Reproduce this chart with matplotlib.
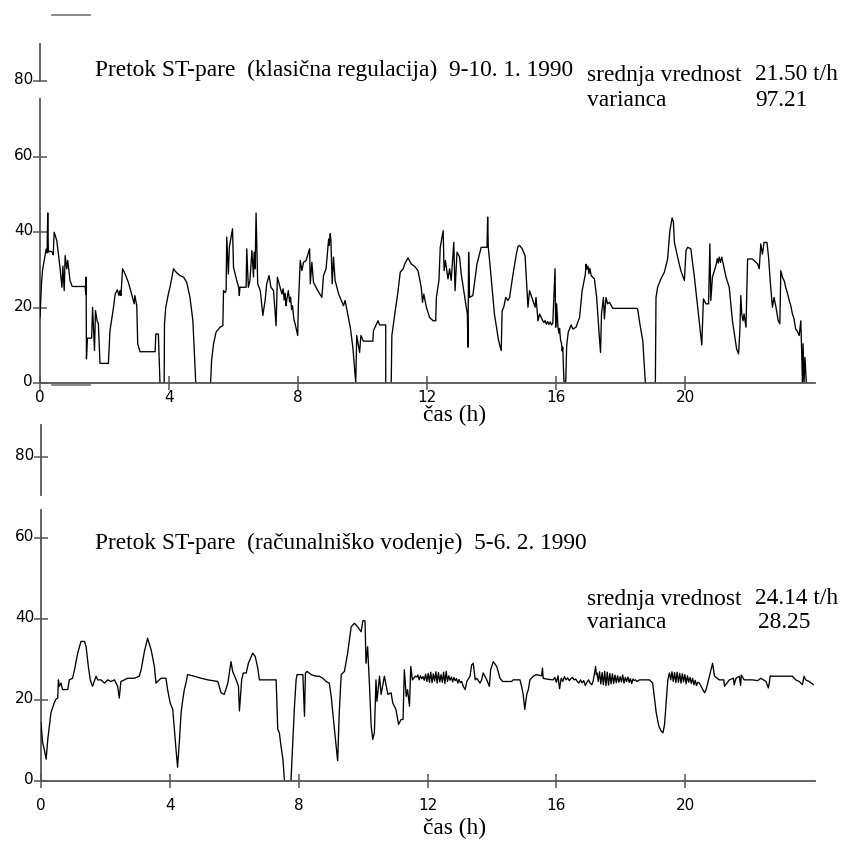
import numpy as np
import matplotlib.pyplot as plt
from matplotlib.lines import Line2D
from matplotlib.transforms import ScaledTranslation

# steam flow, classic control, 9-10. 1. 1990
classic_t = [0.00, 0.05, 0.08, 0.13, 0.19, 0.22, 0.24, 0.26, 0.31, 0.38, 0.41, 0.44, 0.52, 0.62, 0.68,
             0.71, 0.75, 0.78, 0.83, 0.86, 0.90, 0.93, 1.00, 1.40, 1.42, 1.43, 1.44, 1.47, 1.60, 1.63,
             1.69, 1.72, 1.77, 1.81, 1.86, 2.12, 2.17, 2.28, 2.33, 2.40, 2.45, 2.48, 2.51, 2.56, 2.64,
             2.74, 2.84, 2.92, 2.94, 3.00, 3.03, 3.10, 3.57, 3.59, 3.67, 3.72, 3.85, 3.86, 3.90, 3.98,
             4.03, 4.14, 4.22, 4.34, 4.45, 4.55, 4.65, 4.74, 4.83, 5.29, 5.32, 5.38, 5.46, 5.58, 5.67,
             5.69, 5.74, 5.77, 5.79, 5.84, 5.87, 5.97, 6.00, 6.10, 6.16, 6.18, 6.20, 6.39, 6.41, 6.46,
             6.51, 6.57, 6.62, 6.64, 6.67, 6.70, 6.75, 6.83, 6.91, 6.98, 7.03, 7.10, 7.16, 7.24, 7.32,
             7.36, 7.50, 7.54, 7.57, 7.60, 7.63, 7.65, 7.70, 7.74, 7.77, 7.80, 7.83, 7.87, 7.91, 7.99,
             8.01, 8.07, 8.12, 8.17, 8.25, 8.36, 8.38, 8.43, 8.48, 8.58, 8.74, 8.79, 8.87, 8.95, 8.97,
             9.00, 9.02, 9.06, 9.10, 9.15, 9.26, 9.41, 9.46, 9.62, 9.70, 9.79, 9.82, 9.91, 9.95, 10.03,
             10.32, 10.34, 10.48, 10.53, 10.72, 10.72, 10.89, 10.91, 11.03, 11.09, 11.17, 11.26, 11.31,
             11.41, 11.51, 11.62, 11.72, 11.82, 11.86, 11.90, 11.98, 12.08, 12.19, 12.27, 12.29, 12.37,
             12.41, 12.50, 12.53, 12.57, 12.65, 12.70, 12.75, 12.83, 12.87, 12.93, 13.01, 13.06, 13.17,
             13.25, 13.27, 13.29, 13.32, 13.42, 13.55, 13.68, 13.86, 13.88, 13.90, 13.96, 14.09, 14.22,
             14.30, 14.33, 14.38, 14.44, 14.51, 14.56, 14.66, 14.77, 14.82, 14.87, 14.95, 15.04, 15.13,
             15.18, 15.28, 15.35, 15.38, 15.44, 15.49, 15.59, 15.63, 15.66, 15.70, 15.74, 15.78, 15.82,
             15.86, 15.90, 15.97, 15.99, 16.02, 16.06, 16.09, 16.11, 16.14, 16.17, 16.19, 16.21, 16.23,
             16.25, 16.30, 16.33, 16.38, 16.47, 16.52, 16.62, 16.73, 16.81, 16.91, 16.93, 16.96, 16.99,
             17.02, 17.05, 17.09, 17.19, 17.26, 17.33, 17.38, 17.41, 17.47, 17.50, 17.55, 17.60, 17.66,
             17.76, 18.51, 18.53, 18.60, 18.69, 18.77, 19.08, 19.10, 19.15, 19.25, 19.36, 19.46, 19.53,
             19.60, 19.64, 19.67, 19.77, 19.87, 19.98, 20.03, 20.08, 20.18, 20.29, 20.44, 20.52, 20.57,
             20.65, 20.73, 20.77, 20.80, 20.85, 20.96, 21.00, 21.03, 21.06, 21.10, 21.14, 21.27, 21.37,
             21.47, 21.60, 21.66, 21.70, 21.73, 21.76, 21.80, 21.83, 21.89, 21.94, 22.09, 22.25, 22.30,
             22.35, 22.40, 22.45, 22.54, 22.59, 22.64, 22.71, 22.76, 22.82, 22.89, 22.94, 22.97, 23.02,
             23.08, 23.12, 23.17, 23.23, 23.28, 23.33, 23.38, 23.43, 23.48, 23.54, 23.59, 23.61, 23.64,
             23.66, 23.69, 23.72, 23.76]
classic_q = [17.5, 27.0, 30.0, 32.5, 35.5, 34.5, 45.1, 34.7, 35.0, 34.7, 34.0, 40.0, 37.8, 30.7, 25.4,
             31.0, 24.5, 33.8, 30.3, 32.5, 29.4, 27.2, 25.6, 25.6, 23.5, 28.1, 6.4, 11.9, 11.9, 20.1,
             8.6, 19.2, 16.5, 15.7, 5.2, 5.2, 13.9, 20.1, 23.6, 24.7, 23.2, 24.5, 23.2, 30.3, 28.9,
             26.7, 23.6, 21.0, 23.2, 20.5, 10.4, 8.3, 8.3, 13.0, 13.0, 0.0, 0.0, 15.7, 20.1, 23.6,
             25.4, 30.3, 29.4, 28.5, 28.1, 26.7, 22.7, 16.5, 0.0, 0.0, 5.9, 10.4, 13.5, 14.8, 15.2,
             24.5, 24.0, 24.5, 38.7, 28.9, 36.0, 40.9, 30.7, 27.2, 25.4, 23.2, 25.4, 25.4, 35.6, 25.4,
             27.2, 35.1, 28.1, 34.7, 30.3, 45.1, 26.3, 24.5, 17.9, 21.9, 26.3, 28.5, 25.4, 24.5, 15.2,
             28.1, 23.6, 25.0, 22.0, 23.8, 20.5, 22.0, 24.5, 21.5, 22.8, 19.5, 20.5, 17.0, 15.7, 12.6,
             20.5, 32.5, 29.8, 32.0, 32.5, 35.6, 26.3, 32.0, 26.7, 25.0, 22.7, 28.5, 30.3, 38.2, 36.5,
             39.6, 37.8, 26.3, 33.4, 27.2, 23.6, 20.5, 21.9, 14.8, 9.5, 0.0, 12.6, 8.1, 12.6, 11.1,
             11.1, 13.9, 16.5, 15.4, 15.4, 0.0, 0.0, 12.6, 20.1, 23.6, 29.4, 30.3, 31.6,
             33.2, 31.6, 30.9, 29.8, 25.4, 21.4, 23.6, 20.1, 17.4, 16.5, 16.5, 22.7, 27.2,
             36.0, 40.4, 29.8, 32.5, 27.6, 30.3, 27.2, 37.3, 24.5, 34.7, 33.4, 28.9, 22.7,
             18.3, 9.5, 34.7, 22.7, 23.2, 31.6, 36.0, 36.0, 44.0, 36.0, 30.7, 18.3, 11.2,
             8.6, 19.2, 20.1, 22.7, 21.9, 22.7, 28.5, 34.2, 36.2, 36.5, 35.6, 33.8, 20.1,
             24.5, 21.9, 20.1, 22.7, 16.5, 18.3, 16.5, 16.0, 16.6, 15.6, 16.3, 15.5, 16.2,
             15.4, 15.9, 30.3, 14.8, 21.0, 14.8, 13.2, 14.5, 11.5, 10.5, 8.5, 9.5, 4.0,
             0.0, 0.0, 9.9, 13.5, 15.4, 14.3, 14.8, 17.4, 24.5, 28.9, 31.5, 30.2, 31.0,
             29.0, 30.4, 28.5, 27.6, 22.7, 13.9, 8.1, 18.3, 22.7, 17.0, 22.7, 21.0, 21.4,
             19.8, 19.8, 19.6, 15.7, 11.2, 0.0, 0.0, 22.7, 25.4, 27.6, 29.4, 32.9, 40.4,
             43.8, 42.7, 37.3, 33.4, 29.8, 27.2, 35.1, 36.0, 35.6, 28.1, 16.5, 10.1, 22.3,
             21.0, 21.0, 36.9, 21.9, 28.1, 31.2, 33.0, 31.8, 33.4, 32.0, 33.4, 28.1, 25.4,
             16.5, 9.0, 7.7, 13.9, 23.2, 18.3, 16.5, 18.3, 14.8, 32.9, 32.9, 31.6, 30.3,
             36.9, 34.2, 37.3, 37.3, 33.4, 27.2, 20.1, 22.7, 20.1, 16.5, 15.7, 29.8, 28.1,
             27.0, 25.4, 24.0, 21.9, 20.5, 18.3, 17.0, 14.3, 13.8, 12.6, 16.5, 10.4, 0.0,
             10.4, 0.0, 6.8, 0.0]

# steam flow, computer control, 5-6. 2. 1990
computer_t = [0.00, 0.05, 0.10, 0.16, 0.21, 0.26, 0.31, 0.41, 0.47, 0.52, 0.54, 0.57, 0.62, 0.67, 0.83,
              0.88, 0.98, 1.04, 1.14, 1.24, 1.35, 1.40, 1.47, 1.53, 1.60, 1.71, 1.76, 1.86, 1.97, 2.07,
              2.17, 2.28, 2.38, 2.43, 2.48, 2.59, 2.69, 2.90, 3.05, 3.11, 3.21, 3.31, 3.42, 3.52, 3.57,
              3.67, 3.73, 3.88, 3.93, 4.01, 4.09, 4.14, 4.20, 4.24, 4.30, 4.35, 4.40, 4.45, 4.50, 4.55,
              4.71, 4.76, 4.97, 5.18, 5.49, 5.59, 5.69, 5.80, 5.90, 5.95, 6.06, 6.13, 6.16, 6.23, 6.28,
              6.37, 6.44, 6.57, 6.65, 6.73, 6.78, 7.30, 7.35, 7.40, 7.45, 7.51, 7.56, 7.76, 7.82, 7.87,
              7.92, 7.95, 8.13, 8.18, 8.21, 8.26, 8.39, 8.54, 8.64, 8.75, 8.85, 8.95, 9.01, 9.11, 9.21,
              9.26, 9.32, 9.42, 9.52, 9.63, 9.73, 9.83, 9.94, 9.99, 10.06, 10.09, 10.14, 10.20, 10.25,
              10.30, 10.35, 10.40, 10.43, 10.51, 10.56, 10.66, 10.77, 10.87, 10.92, 11.02, 11.10, 11.18,
              11.24, 11.28, 11.34, 11.38, 11.44, 11.48, 11.53, 11.62, 11.67,
              11.70, 11.74, 11.78, 11.82, 11.86, 11.90, 11.94, 11.98, 12.02, 12.06, 12.10, 12.14, 12.18,
              12.22, 12.26, 12.30, 12.34, 12.38, 12.42, 12.46, 12.50, 12.54, 12.58, 12.62, 12.66, 12.70,
              12.74, 12.78, 12.82, 12.86, 12.90, 12.94, 12.98, 13.02, 13.06, 13.11,
              13.17, 13.22, 13.32, 13.37, 13.42, 13.48, 13.53, 13.63, 13.68, 13.73, 13.84, 13.92, 13.96,
              14.04, 14.15, 14.25, 14.33, 14.61, 14.66, 14.77, 14.87, 14.92, 14.97, 15.02, 15.08, 15.13,
              15.18, 15.28, 15.38, 15.54, 15.57, 15.59, 15.69, 15.90,
              15.95, 16.00, 16.05, 16.10, 16.15, 16.20, 16.25, 16.30, 16.35, 16.40, 16.45, 16.50, 16.55,
              16.60, 16.65, 16.70, 16.75, 16.80, 16.85, 16.90, 16.95, 17.00, 17.05, 17.10, 17.14,
              17.22, 17.24, 17.26, 17.30, 17.34, 17.38, 17.42, 17.46, 17.50, 17.54, 17.58, 17.62, 17.66,
              17.70, 17.74, 17.78, 17.82, 17.86, 17.90, 17.94, 17.98, 18.02, 18.06, 18.10, 18.14, 18.18,
              18.22, 18.26, 18.30, 18.34, 18.38, 18.42, 18.46, 18.50,
              18.58, 18.89, 18.99, 19.10, 19.18, 19.25, 19.31, 19.36, 19.46, 19.51,
              19.55, 19.59, 19.63, 19.67, 19.71, 19.75, 19.79, 19.83, 19.87, 19.91, 19.95, 19.99, 20.03,
              20.07, 20.11, 20.15, 20.19, 20.23, 20.27, 20.31, 20.35, 20.39,
              20.44, 20.60, 20.65, 20.75, 20.85, 20.91, 21.06, 21.20, 21.22, 21.37, 21.50, 21.52, 21.58,
              21.68, 21.72, 21.74, 21.83, 22.09, 22.25, 22.35, 22.51, 22.58, 22.61, 22.64, 22.66, 23.33,
              23.43, 23.54, 23.64, 23.69, 23.74, 23.85, 23.98]
computer_q = [14.4, 9.5, 7.9, 5.4, 10.3, 13.6, 16.9, 19.3, 20.3, 20.5, 25.0, 23.4, 24.2, 22.6, 22.6,
              25.0, 25.4, 27.5, 31.6, 34.5, 34.5, 33.2, 28.3, 25.0, 23.4, 25.9, 25.0, 25.0, 24.2, 25.0,
              24.6, 25.0, 23.4, 20.5, 24.6, 25.0, 25.4, 25.4, 25.9, 27.5, 32.0, 35.3, 32.4, 28.3, 24.2,
              25.0, 25.4, 25.4, 22.6, 19.3, 17.7, 12.8, 7.0, 3.4, 10.3, 16.9, 20.0, 22.6, 24.2, 26.3,
              26.0, 25.9, 25.4, 25.0, 24.6, 21.8, 21.4, 24.2, 29.5, 27.1, 25.0, 23.4, 17.3, 25.0, 26.7,
              26.7, 29.1, 31.6, 30.8, 27.9, 25.0, 25.0, 12.8, 11.9, 8.7, 5.4, 0.0, 0.0, 10.3, 18.5,
              25.0, 26.3, 26.3, 16.0, 26.7, 27.1, 26.3, 25.9, 25.9, 25.4, 24.6, 24.2, 20.9, 12.8, 5.0,
              16.9, 26.3, 27.1, 31.6, 38.1, 39.0, 38.1, 36.9, 39.6, 39.6, 29.1, 33.2, 23.4, 13.6,
              10.3, 11.9, 25.0, 19.7, 25.9, 21.4, 25.9, 21.4, 21.8, 19.3, 17.7, 14.0, 15.2,
              15.2, 27.5, 20.9, 22.6, 18.5, 28.3, 25.0, 25.9, 25.7,
              26.2, 25.0, 26.0, 25.3, 25.8, 24.9, 26.4, 24.6, 26.6, 24.4, 26.9, 24.3, 26.5,
              24.7, 27.0, 24.2, 26.8, 24.5, 26.3, 24.4, 26.9, 24.1, 27.1, 24.6, 26.0, 24.9,
              25.7, 24.5, 25.6, 24.8, 25.3, 24.2, 25.1, 24.3, 24.6, 23.4,
              22.6, 24.6, 25.9, 28.7, 29.1, 25.0, 25.4, 24.2, 25.0, 26.7, 25.0, 23.4, 27.5,
              29.5, 28.3, 25.4, 24.6, 24.6, 25.0, 25.0, 25.0, 23.4, 21.4, 17.7, 21.4, 22.6,
              25.0, 25.9, 26.3, 26.0, 27.9, 25.4, 25.2, 25.0,
              25.6, 24.4, 26.0, 22.8, 25.4, 24.6, 25.8, 25.0, 25.5, 24.8, 25.3, 25.6, 25.0,
              25.2, 24.6, 24.2, 25.0, 24.3, 24.8, 23.6, 24.4, 25.0, 24.2, 23.8, 24.6,
              28.3, 26.3, 26.7, 24.6, 27.0, 24.0, 26.8, 23.8, 27.1, 23.6, 26.9, 23.7, 26.6,
              24.0, 26.5, 24.1, 26.2, 24.3, 26.0, 24.4, 25.8, 24.5, 26.2, 24.2, 25.6, 24.6,
              25.7, 24.4, 25.3, 24.1, 25.2, 24.8, 25.0, 24.6,
              25.0, 25.0, 24.2, 16.9, 13.6, 12.4, 11.9, 14.0, 25.0, 26.7,
              25.0, 27.0, 24.6, 26.8, 24.3, 26.9, 24.4, 26.6, 24.2, 26.5, 24.5, 26.3, 24.0,
              26.0, 24.4, 25.6, 24.1, 25.4, 23.8, 24.9, 23.6, 24.4,
              24.2, 21.8, 22.6, 25.9, 29.1, 25.9, 25.0, 25.0, 23.4, 25.0, 25.4, 23.8, 25.4,
              25.9, 23.6, 26.2, 25.0, 25.0, 24.8, 25.4, 24.6, 23.0, 24.2, 26.0, 25.9, 25.9,
              25.0, 24.6, 23.8, 25.9, 25.0, 24.6, 23.8]

hour_ticks = [0, 4, 8, 12, 16, 20]
flow_ticks = [0, 20, 40, 60, 80]

W = 841
axis_col = '#555555'
serif = 'Liberation Serif'
fs = 16.8

fig = plt.figure(figsize=(8.41, 8.41), dpi=100)


def make_axes(rect, ymax, gap, xpad):
    ax = fig.add_axes(rect)
    ax.set_xlim(0, 24.03)
    ax.set_ylim(0, ymax)
    for s in ['top', 'right', 'left']:
        ax.spines[s].set_visible(False)
    ax.spines['bottom'].set_color(axis_col)
    ax.spines['bottom'].set_linewidth(1.3)
    # left axis line with a break in it
    tr = ax.get_yaxis_transform()
    ax.plot([0, 0], [0, gap[0]], color=axis_col, lw=1.3, transform=tr, clip_on=False)
    ax.plot([0, 0], [gap[1], ymax], color=axis_col, lw=1.3, transform=tr, clip_on=False)
    ax.set_xticks(hour_ticks)
    ax.set_yticks(flow_ticks)
    ax.tick_params(direction='inout', length=10, width=1.1, color=axis_col, labelsize=11)
    ax.tick_params(axis='x', pad=xpad)
    ax.tick_params(axis='y', pad=0)
    for lab in ax.get_xticklabels() + ax.get_yticklabels():
        lab.set_family('DejaVu Sans')
    # y labels sit a little above their tick
    up = ScaledTranslation(0, 3 / 100, fig.dpi_scale_trans)
    for lab in ax.get_yticklabels():
        lab.set_transform(lab.get_transform() + up)
    return ax


ax1 = make_axes([40 / W, 1 - 383 / W, 775 / W, 339.3 / W], 90, (75.3, 80), 0)
ax1.plot(classic_t, classic_q, color='black', lw=0.95)

ax2 = make_axes([41 / W, 1 - 781 / W, 774 / W, 356 / W], 88, (67.0, 70.6), 7)
ax2.plot(computer_t, computer_q, color='black', lw=0.95)

# axis titles
fig.text(455 / W, 1 - 415 / W, 'čas (h)', family=serif, fontsize=fs, ha='center', va='center')
fig.text(455 / W, 1 - 828 / W, 'čas (h)', family=serif, fontsize=fs, ha='center', va='center')

fig.text(95 / W, 1 - 70 / W, 'Pretok ST-pare  (klasična regulacija)  9-10. 1. 1990',
         family=serif, fontsize=fs, va='center')
fig.text(95 / W, 1 - 543 / W, 'Pretok ST-pare  (računalniško vodenje)  5-6. 2. 1990',
         family=serif, fontsize=fs, va='center')

renderer = fig.canvas.get_renderer()


def stats(y1, y2, mean_txt, var_txt, shift):
    fig.text(587 / W, 1 - y1 / W, 'srednja vrednost', family=serif, fontsize=fs, va='center')
    m = fig.text(838 / W, 1 - y1 / W, mean_txt, family=serif, fontsize=fs, va='center', ha='right')
    x0 = m.get_window_extent(renderer).x0
    fig.text(587 / W, 1 - y2 / W, 'varianca', family=serif, fontsize=fs, va='center')
    fig.text((x0 + shift) / W, 1 - y2 / W, var_txt, family=serif, fontsize=fs, va='center')


stats(75, 100, '21.50 t/h', '97.21', 0)
stats(599, 623, '24.14 t/h', '28.25', 3)

# short grey strokes left over in the original scan
for yy in [15, 385]:
    fig.add_artist(Line2D([52 / W, 90 / W], [1 - yy / W, 1 - yy / W], color='#777777', lw=1.2))

fig.savefig('out.png', dpi=100)
